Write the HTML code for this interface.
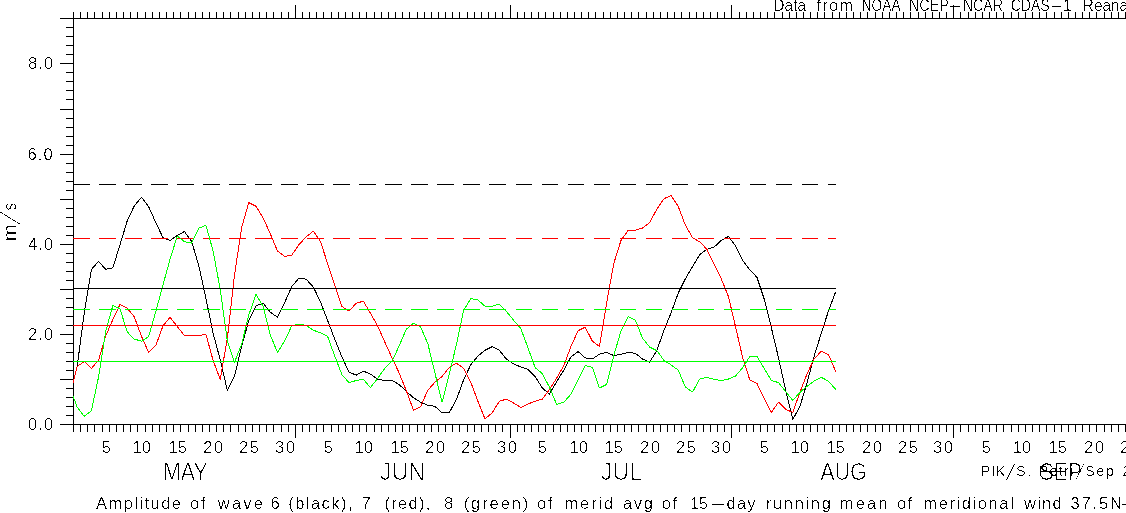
<!DOCTYPE html>
<html lang="en"><head><meta charset="utf-8"><title>Wave amplitude plot</title>
<style>
html,body{margin:0;padding:0;background:#fff;}
body{width:1126px;height:513px;overflow:hidden;}
svg{display:block;}
</style></head><body>
<svg width="1126" height="513" viewBox="0 0 1126 513">
<rect x="0" y="0" width="1126" height="513" fill="#fff"/>
<defs><clipPath id="plot"><rect x="73" y="19" width="764" height="406"/></clipPath><filter id="bw" x="0" y="0" width="100%" height="100%" filterUnits="userSpaceOnUse" primitiveUnits="userSpaceOnUse" color-interpolation-filters="sRGB"><feComponentTransfer><feFuncR type="discrete" tableValues="0 1"/><feFuncG type="discrete" tableValues="0 1"/><feFuncB type="discrete" tableValues="0 1"/><feFuncA type="discrete" tableValues="0 0 0 0 0 0 0 0 0 0 0 0 0 1 1 1 1 1 1 1"/></feComponentTransfer></filter></defs>
<g stroke="#000" stroke-width="1" fill="none" shape-rendering="crispEdges">
<path d="M60 18.5H1126"/>
<path d="M60 424.5H1126"/>
<path d="M73.5 18.5V424.5"/>
<path d="M73.5 12V18.5M73.5 424.5V432M80.5 12V18.5M80.5 424.5V432M87.5 12V18.5M87.5 424.5V432M94.5 12V18.5M94.5 424.5V432M102.5 12V18.5M102.5 424.5V432M109.5 12V18.5M109.5 424.5V432M116.5 12V18.5M116.5 424.5V432M123.5 12V18.5M123.5 424.5V432M130.5 12V18.5M130.5 424.5V432M137.5 12V18.5M137.5 424.5V432M145.5 12V18.5M145.5 424.5V432M152.5 12V18.5M152.5 424.5V432M159.5 12V18.5M159.5 424.5V432M166.5 12V18.5M166.5 424.5V432M173.5 12V18.5M173.5 424.5V432M180.5 12V18.5M180.5 424.5V432M188.5 12V18.5M188.5 424.5V432M195.5 12V18.5M195.5 424.5V432M202.5 12V18.5M202.5 424.5V432M209.5 12V18.5M209.5 424.5V432M216.5 12V18.5M216.5 424.5V432M223.5 12V18.5M223.5 424.5V432M230.5 12V18.5M230.5 424.5V432M238.5 12V18.5M238.5 424.5V432M245.5 12V18.5M245.5 424.5V432M252.5 12V18.5M252.5 424.5V432M259.5 12V18.5M259.5 424.5V432M266.5 12V18.5M266.5 424.5V432M273.5 12V18.5M273.5 424.5V432M281.5 12V18.5M281.5 424.5V432M288.5 12V18.5M288.5 424.5V432M295.5 5V18.5M295.5 424.5V438M302.5 12V18.5M302.5 424.5V432M309.5 12V18.5M309.5 424.5V432M316.5 12V18.5M316.5 424.5V432M323.5 12V18.5M323.5 424.5V432M331.5 12V18.5M331.5 424.5V432M338.5 12V18.5M338.5 424.5V432M345.5 12V18.5M345.5 424.5V432M352.5 12V18.5M352.5 424.5V432M359.5 12V18.5M359.5 424.5V432M366.5 12V18.5M366.5 424.5V432M374.5 12V18.5M374.5 424.5V432M381.5 12V18.5M381.5 424.5V432M388.5 12V18.5M388.5 424.5V432M395.5 12V18.5M395.5 424.5V432M402.5 12V18.5M402.5 424.5V432M409.5 12V18.5M409.5 424.5V432M417.5 12V18.5M417.5 424.5V432M424.5 12V18.5M424.5 424.5V432M431.5 12V18.5M431.5 424.5V432M438.5 12V18.5M438.5 424.5V432M445.5 12V18.5M445.5 424.5V432M452.5 12V18.5M452.5 424.5V432M459.5 12V18.5M459.5 424.5V432M467.5 12V18.5M467.5 424.5V432M474.5 12V18.5M474.5 424.5V432M481.5 12V18.5M481.5 424.5V432M488.5 12V18.5M488.5 424.5V432M495.5 12V18.5M495.5 424.5V432M502.5 12V18.5M502.5 424.5V432M510.5 5V18.5M510.5 424.5V438M517.5 12V18.5M517.5 424.5V432M524.5 12V18.5M524.5 424.5V432M531.5 12V18.5M531.5 424.5V432M538.5 12V18.5M538.5 424.5V432M545.5 12V18.5M545.5 424.5V432M553.5 12V18.5M553.5 424.5V432M560.5 12V18.5M560.5 424.5V432M567.5 12V18.5M567.5 424.5V432M574.5 12V18.5M574.5 424.5V432M581.5 12V18.5M581.5 424.5V432M588.5 12V18.5M588.5 424.5V432M595.5 12V18.5M595.5 424.5V432M603.5 12V18.5M603.5 424.5V432M610.5 12V18.5M610.5 424.5V432M617.5 12V18.5M617.5 424.5V432M624.5 12V18.5M624.5 424.5V432M631.5 12V18.5M631.5 424.5V432M638.5 12V18.5M638.5 424.5V432M646.5 12V18.5M646.5 424.5V432M653.5 12V18.5M653.5 424.5V432M660.5 12V18.5M660.5 424.5V432M667.5 12V18.5M667.5 424.5V432M674.5 12V18.5M674.5 424.5V432M681.5 12V18.5M681.5 424.5V432M689.5 12V18.5M689.5 424.5V432M696.5 12V18.5M696.5 424.5V432M703.5 12V18.5M703.5 424.5V432M710.5 12V18.5M710.5 424.5V432M717.5 12V18.5M717.5 424.5V432M724.5 12V18.5M724.5 424.5V432M731.5 5V18.5M731.5 424.5V438M739.5 12V18.5M739.5 424.5V432M746.5 12V18.5M746.5 424.5V432M753.5 12V18.5M753.5 424.5V432M760.5 12V18.5M760.5 424.5V432M767.5 12V18.5M767.5 424.5V432M774.5 12V18.5M774.5 424.5V432M782.5 12V18.5M782.5 424.5V432M789.5 12V18.5M789.5 424.5V432M796.5 12V18.5M796.5 424.5V432M803.5 12V18.5M803.5 424.5V432M810.5 12V18.5M810.5 424.5V432M817.5 12V18.5M817.5 424.5V432M824.5 12V18.5M824.5 424.5V432M832.5 12V18.5M832.5 424.5V432M839.5 12V18.5M839.5 424.5V432M846.5 12V18.5M846.5 424.5V432M853.5 12V18.5M853.5 424.5V432M860.5 12V18.5M860.5 424.5V432M867.5 12V18.5M867.5 424.5V432M875.5 12V18.5M875.5 424.5V432M882.5 12V18.5M882.5 424.5V432M889.5 12V18.5M889.5 424.5V432M896.5 12V18.5M896.5 424.5V432M903.5 12V18.5M903.5 424.5V432M910.5 12V18.5M910.5 424.5V432M918.5 12V18.5M918.5 424.5V432M925.5 12V18.5M925.5 424.5V432M932.5 12V18.5M932.5 424.5V432M939.5 12V18.5M939.5 424.5V432M946.5 12V18.5M946.5 424.5V432M953.5 5V18.5M953.5 424.5V438M960.5 12V18.5M960.5 424.5V432M968.5 12V18.5M968.5 424.5V432M975.5 12V18.5M975.5 424.5V432M982.5 12V18.5M982.5 424.5V432M989.5 12V18.5M989.5 424.5V432M996.5 12V18.5M996.5 424.5V432M1003.5 12V18.5M1003.5 424.5V432M1011.5 12V18.5M1011.5 424.5V432M1018.5 12V18.5M1018.5 424.5V432M1025.5 12V18.5M1025.5 424.5V432M1032.5 12V18.5M1032.5 424.5V432M1039.5 12V18.5M1039.5 424.5V432M1046.5 12V18.5M1046.5 424.5V432M1054.5 12V18.5M1054.5 424.5V432M1061.5 12V18.5M1061.5 424.5V432M1068.5 12V18.5M1068.5 424.5V432M1075.5 12V18.5M1075.5 424.5V432M1082.5 12V18.5M1082.5 424.5V432M1089.5 12V18.5M1089.5 424.5V432M1096.5 12V18.5M1096.5 424.5V432M1104.5 12V18.5M1104.5 424.5V432M1111.5 12V18.5M1111.5 424.5V432M1118.5 12V18.5M1118.5 424.5V432M1125.5 12V18.5M1125.5 424.5V432"/>
<path d="M60 424.5H73.5M66 415.5H73.5M66 406.5H73.5M66 397.5H73.5M66 388.5H73.5M60 379.5H73.5M66 370.5H73.5M66 361.5H73.5M66 352.5H73.5M66 343.5H73.5M60 334.5H73.5M66 325.5H73.5M66 316.5H73.5M66 307.5H73.5M66 298.5H73.5M60 289.5H73.5M66 280.5H73.5M66 271.5H73.5M66 262.5H73.5M66 253.5H73.5M60 244.5H73.5M66 235.5H73.5M66 226.5H73.5M66 217.5H73.5M66 208.5H73.5M60 199.5H73.5M66 190.5H73.5M66 181.5H73.5M66 172.5H73.5M66 163.5H73.5M60 154.5H73.5M66 145.5H73.5M66 136.5H73.5M66 127.5H73.5M66 118.5H73.5M60 109.5H73.5M66 99.5H73.5M66 90.5H73.5M66 81.5H73.5M66 72.5H73.5M60 63.5H73.5M66 54.5H73.5M66 45.5H73.5M66 36.5H73.5M66 27.5H73.5M60 18.5H73.5"/>
</g>
<g stroke-width="1" fill="none" shape-rendering="crispEdges" stroke-linejoin="round">
<polyline points="69.9,396.0 77.1,367.0 84.2,313.3 91.4,269.5 98.5,261.3 105.7,269.4 112.9,267.7 120.0,244.8 127.2,220.9 134.3,205.8 141.5,197.2 148.6,206.6 155.8,222.6 163.0,237.7 170.1,240.4 177.3,235.4 184.4,231.5 191.6,241.3 198.7,265.3 205.9,298.2 213.1,333.2 220.2,359.5 227.4,390.6 234.5,376.4 241.7,346.0 248.8,320.4 256.0,305.8 263.2,303.2 270.3,312.2 277.5,317.2 284.6,302.6 291.8,286.6 298.9,278.1 306.1,279.2 313.3,287.0 320.4,301.7 327.6,320.4 334.7,339.0 341.9,356.9 349.0,372.0 356.2,375.2 363.4,371.1 370.5,374.1 377.7,379.4 384.8,380.5 392.0,380.5 399.1,384.4 406.3,391.5 413.5,397.7 420.6,402.2 427.8,405.2 434.9,406.3 442.1,412.8 449.2,412.8 456.4,399.5 463.6,380.0 470.7,364.9 477.9,356.0 485.0,350.3 492.2,346.7 499.3,350.3 506.5,359.2 513.7,364.0 520.8,367.0 528.0,369.3 535.1,376.4 542.3,388.0 549.4,394.2 556.6,381.7 563.8,370.2 570.9,356.9 578.1,351.5 585.2,357.8 592.4,359.0 599.5,354.2 606.7,352.4 613.9,355.6 621.0,354.2 628.2,352.4 635.3,353.3 642.5,359.0 649.6,362.2 656.8,350.6 664.0,330.2 671.1,312.8 678.3,292.9 685.4,278.7 692.6,266.6 699.7,254.6 706.9,249.3 714.1,247.1 721.2,240.4 728.4,236.5 735.5,245.7 742.7,260.4 749.8,269.7 757.0,277.4 764.2,299.1 771.3,327.5 778.5,357.8 785.6,390.1 792.8,419.4 799.9,406.6 807.1,382.6 814.2,356.0 821.4,332.8 828.6,310.6 835.7,291.6" stroke="#000" clip-path="url(#plot)"/>
<path d="M73 184.5H836.0" stroke="#000" stroke-dasharray="16.5 9.53"/>
<polyline points="69.9,395.8 77.1,366.6 84.2,361.5 91.4,368.4 98.5,360.4 105.7,336.0 112.9,319.5 120.0,304.4 127.2,308.3 134.3,316.8 141.5,336.4 148.6,352.4 155.8,345.5 163.0,325.7 170.1,317.4 177.3,326.6 184.4,335.5 191.6,335.5 198.7,335.5 205.9,334.3 213.1,360.4 220.2,379.4 227.4,338.0 234.5,275.0 241.7,227.1 248.8,202.6 256.0,206.3 263.2,218.2 270.3,233.8 277.5,251.0 284.6,256.4 291.8,255.1 298.9,244.8 306.1,236.8 313.3,231.2 320.4,241.3 327.6,263.5 334.7,284.9 341.9,306.5 349.0,311.2 356.2,303.2 363.4,301.2 370.5,313.3 377.7,326.1 384.8,342.0 392.0,357.8 399.1,372.9 406.3,390.6 413.5,410.2 420.6,406.6 427.8,390.3 434.9,382.3 442.1,376.4 449.2,367.5 456.4,363.1 463.6,368.4 470.7,382.0 477.9,401.3 485.0,419.0 492.2,412.8 499.3,401.3 506.5,399.1 513.7,403.1 520.8,407.5 528.0,403.9 535.1,401.3 542.3,399.1 549.4,389.7 556.6,378.2 563.8,365.8 570.9,346.5 578.1,330.7 585.2,327.1 592.4,341.3 599.5,346.4 606.7,302.6 613.9,263.0 621.0,240.4 628.2,230.3 635.3,230.3 642.5,228.0 649.6,222.6 656.8,209.3 664.0,198.7 671.1,195.6 678.3,206.6 685.4,225.3 692.6,237.7 699.7,241.8 706.9,249.3 714.1,264.4 721.2,278.7 728.4,296.4 735.5,326.6 742.7,357.8 749.8,380.0 757.0,383.5 764.2,398.6 771.3,412.5 778.5,402.2 785.6,409.3 792.8,412.5 799.9,392.4 807.1,373.7 814.2,358.7 821.4,351.2 828.6,354.6 835.7,371.6" stroke="#f00" clip-path="url(#plot)"/>
<path d="M73 238.5H836.0" stroke="#f00" stroke-dasharray="16.5 9.53"/>
<polyline points="69.9,387.3 77.1,407.1 84.2,416.4 91.4,410.7 98.5,377.3 105.7,331.5 112.9,305.3 120.0,308.8 127.2,331.9 134.3,339.0 141.5,341.3 148.6,336.7 155.8,311.5 163.0,284.9 170.1,259.0 177.3,236.0 184.4,241.6 191.6,243.1 198.7,228.3 205.9,225.3 213.1,251.0 220.2,289.3 227.4,341.3 234.5,362.4 241.7,344.0 248.8,315.0 256.0,294.6 263.2,306.5 270.3,335.0 277.5,352.5 284.6,341.0 291.8,325.7 298.9,324.3 306.1,325.4 313.3,330.2 320.4,332.8 327.6,336.4 334.7,356.0 341.9,374.6 349.0,382.6 356.2,380.5 363.4,379.4 370.5,387.6 377.7,378.2 384.8,368.4 392.0,361.3 399.1,346.0 406.3,329.3 413.5,323.1 420.6,327.1 427.8,343.5 434.9,372.9 442.1,402.2 449.2,374.6 456.4,344.5 463.6,310.6 470.7,298.6 477.9,300.0 485.0,306.2 492.2,306.2 499.3,304.0 506.5,311.5 513.7,320.4 520.8,328.4 528.0,348.0 535.1,367.5 542.3,373.7 549.4,387.1 556.6,404.3 563.8,402.2 570.9,394.2 578.1,380.0 585.2,365.4 592.4,367.5 599.5,388.0 606.7,384.4 613.9,355.1 621.0,331.0 628.2,316.5 635.3,320.0 642.5,338.2 649.6,347.0 656.8,350.6 664.0,360.4 671.1,364.9 678.3,370.2 685.4,387.1 692.6,392.0 699.7,379.1 706.9,377.3 714.1,379.4 721.2,380.5 728.4,379.1 735.5,376.1 742.7,367.5 749.8,356.5 757.0,356.5 764.2,368.4 771.3,380.5 778.5,382.6 785.6,391.5 792.8,400.4 799.9,392.4 807.1,386.2 814.2,380.9 821.4,377.3 828.6,381.4 835.7,389.4" stroke="#0f0" clip-path="url(#plot)"/>
<path d="M73 309.5H836.0" stroke="#0f0" stroke-dasharray="16.5 9.53"/>
<path d="M73 288.5H836.0" stroke="#000"/>
<path d="M73 325.5H836.0" stroke="#f00"/>
<path d="M73 361.5H836.0" stroke="#0f0"/>
</g>
<g font-family="'Liberation Sans', Arial, sans-serif" fill="#000"  filter="url(#bw)">
<text x="28.10" y="430.00" font-size="16.5" textLength="25.14" lengthAdjust="spacing">0.0</text>
<text x="28.10" y="340.00" font-size="16.5" textLength="25.14" lengthAdjust="spacing">2.0</text>
<text x="28.10" y="250.00" font-size="16.5" textLength="25.14" lengthAdjust="spacing">4.0</text>
<text x="27.50" y="160.00" font-size="16.5" textLength="25.14" lengthAdjust="spacing">6.0</text>
<text x="28.10" y="69.00" font-size="16.5" textLength="25.14" lengthAdjust="spacing">8.0</text>
<g transform="translate(16,240) rotate(-90)" font-size="19"><text transform="matrix(1.09 0 0 1 -1.5 0)">m</text><text font-size="20" transform="matrix(0.75 0 -0.78 1.6 15.3 3.7)">/</text><text transform="matrix(0.82 0 0 1 29.6 0)">s</text></g>
<text x="106.40" y="453.00" font-size="16.5" text-anchor="middle">5</text>
<text x="141.80" y="453.00" font-size="16.5" text-anchor="middle">10</text>
<text x="177.80" y="453.00" font-size="16.5" text-anchor="middle">15</text>
<text x="214.00" y="453.00" font-size="16.5" text-anchor="middle" letter-spacing="1.6">20</text>
<text x="249.70" y="453.00" font-size="16.5" text-anchor="middle" letter-spacing="1.6">25</text>
<text x="285.90" y="453.00" font-size="16.5" text-anchor="middle" letter-spacing="1.6">30</text>
<text x="328.30" y="453.00" font-size="16.5" text-anchor="middle">5</text>
<text x="363.70" y="453.00" font-size="16.5" text-anchor="middle">10</text>
<text x="399.80" y="453.00" font-size="16.5" text-anchor="middle">15</text>
<text x="436.00" y="453.00" font-size="16.5" text-anchor="middle" letter-spacing="1.6">20</text>
<text x="471.80" y="453.00" font-size="16.5" text-anchor="middle" letter-spacing="1.6">25</text>
<text x="507.80" y="453.00" font-size="16.5" text-anchor="middle" letter-spacing="1.6">30</text>
<text x="542.40" y="453.00" font-size="16.5" text-anchor="middle">5</text>
<text x="578.80" y="453.00" font-size="16.5" text-anchor="middle">10</text>
<text x="613.80" y="453.00" font-size="16.5" text-anchor="middle">15</text>
<text x="650.90" y="453.00" font-size="16.5" text-anchor="middle" letter-spacing="1.6">20</text>
<text x="686.70" y="453.00" font-size="16.5" text-anchor="middle" letter-spacing="1.6">25</text>
<text x="721.90" y="453.00" font-size="16.5" text-anchor="middle" letter-spacing="1.6">30</text>
<text x="764.30" y="453.00" font-size="16.5" text-anchor="middle">5</text>
<text x="799.80" y="453.00" font-size="16.5" text-anchor="middle">10</text>
<text x="835.80" y="453.00" font-size="16.5" text-anchor="middle">15</text>
<text x="872.80" y="453.00" font-size="16.5" text-anchor="middle" letter-spacing="1.6">20</text>
<text x="908.80" y="453.00" font-size="16.5" text-anchor="middle" letter-spacing="1.6">25</text>
<text x="943.80" y="453.00" font-size="16.5" text-anchor="middle" letter-spacing="1.6">30</text>
<text x="986.30" y="453.00" font-size="16.5" text-anchor="middle">5</text>
<text x="1022.10" y="453.00" font-size="16.5" text-anchor="middle">10</text>
<text x="1057.70" y="453.00" font-size="16.5" text-anchor="middle">15</text>
<text x="1094.90" y="453.00" font-size="16.5" text-anchor="middle" letter-spacing="1.6">20</text>
<text x="1130.70" y="453.00" font-size="16.5" text-anchor="middle" letter-spacing="1.6">25</text>
<text x="163.04" y="480.00" font-size="23" textLength="44.72" lengthAdjust="spacingAndGlyphs" stroke="#fff" stroke-width="0.55">MAY</text>
<text x="380.10" y="480.00" font-size="23" textLength="45.03" lengthAdjust="spacing" stroke="#fff" stroke-width="0.55">JUN</text>
<text x="600.80" y="480.00" font-size="23" textLength="41.41" lengthAdjust="spacing" stroke="#fff" stroke-width="0.55">JUL</text>
<text x="820.20" y="480.00" font-size="23" textLength="46.52" lengthAdjust="spacingAndGlyphs" stroke="#fff" stroke-width="0.55">AUG</text>
<text x="1039.48" y="480.00" font-size="23" textLength="42.47" lengthAdjust="spacingAndGlyphs" stroke="#fff" stroke-width="0.55">SEP</text>
<text y="11" font-size="16.5"><tspan x="773.26" textLength="32.91" lengthAdjust="spacingAndGlyphs">Data</tspan> <tspan x="816.60" textLength="36.40" lengthAdjust="spacing">from</tspan> <tspan x="861.58" textLength="38.53" lengthAdjust="spacingAndGlyphs">NOAA</tspan> <tspan x="908.93" textLength="39.80" lengthAdjust="spacingAndGlyphs">NCEP</tspan><tspan x="948.20" textLength="14.30" lengthAdjust="spacingAndGlyphs">-</tspan><tspan x="962.84" textLength="40.22" lengthAdjust="spacingAndGlyphs">NCAR</tspan> <tspan x="1010.65" textLength="38.97" lengthAdjust="spacingAndGlyphs">CDAS</tspan><tspan x="1049.45" textLength="14.03" lengthAdjust="spacingAndGlyphs">-</tspan><tspan x="1063.00">1</tspan> <tspan x="1082.77" textLength="75.28" lengthAdjust="spacingAndGlyphs">Reanalysis</tspan></text>
<text x="980.80" y="476.00" font-size="14.5" textLength="24.38" lengthAdjust="spacing">PIK</text><text font-size="14.5" transform="matrix(0.95 0 -0.53 1.585 1006 479.8)">/</text><text x="1016.00" y="476.00" font-size="14.5" textLength="15.40" lengthAdjust="spacing">S.</text> <text x="1038.80" y="476.00" font-size="14.5" textLength="34.43" lengthAdjust="spacing">Petri</text><text font-size="14.5" transform="matrix(0.95 0 -0.53 1.585 1075.2 479.8)">/</text><text x="1085.20" y="476.00" font-size="14.5" textLength="28.71" lengthAdjust="spacing">Sep</text> <text x="1122.2" y="476" font-size="14.5" letter-spacing="1.6">2013</text>
<text y="509" font-size="16.5"><tspan x="96.00" textLength="84.98" lengthAdjust="spacing">Amplitude</tspan> <tspan x="190.10" textLength="15.47" lengthAdjust="spacing">of</tspan> <tspan x="217.80" textLength="45.23" lengthAdjust="spacing">wave</tspan> <tspan x="270.55">6</tspan> <tspan x="288.30" textLength="64.19" lengthAdjust="spacing">(black),</tspan> <tspan x="361.55">7</tspan> <tspan x="384.50" textLength="45.92" lengthAdjust="spacing">(red),</tspan> <tspan x="444.05">8</tspan> <tspan x="463.70" textLength="64.60" lengthAdjust="spacing">(green)</tspan> <tspan x="537.10" textLength="15.37" lengthAdjust="spacing">of</tspan> <tspan x="564.50" textLength="48.77" lengthAdjust="spacing">merid</tspan> <tspan x="622.90" textLength="30.01" lengthAdjust="spacing">avg</tspan> <tspan x="661.70" textLength="15.67" lengthAdjust="spacing">of</tspan> <tspan x="690.24" textLength="17.71" lengthAdjust="spacingAndGlyphs">15</tspan><tspan x="709.48" textLength="16.64" lengthAdjust="spacingAndGlyphs">-</tspan><tspan x="726.60" textLength="29.01" lengthAdjust="spacing">day</tspan> <tspan x="765.90" textLength="64.95" lengthAdjust="spacing">running</tspan> <tspan x="839.80" textLength="47.68" lengthAdjust="spacing">mean</tspan> <tspan x="897.10" textLength="15.27" lengthAdjust="spacing">of</tspan> <tspan x="923.30" textLength="90.52" lengthAdjust="spacing">meridional</tspan> <tspan x="1024.00" textLength="37.74" lengthAdjust="spacing">wind</tspan> <tspan x="1070.60" textLength="51.33" lengthAdjust="spacing">37.5N</tspan><tspan x="1120.38" textLength="15.54" lengthAdjust="spacingAndGlyphs">-</tspan><tspan x="1136" textLength="51.33" lengthAdjust="spacing">57.5N</tspan></text>
</g>
</svg>
</body></html>
